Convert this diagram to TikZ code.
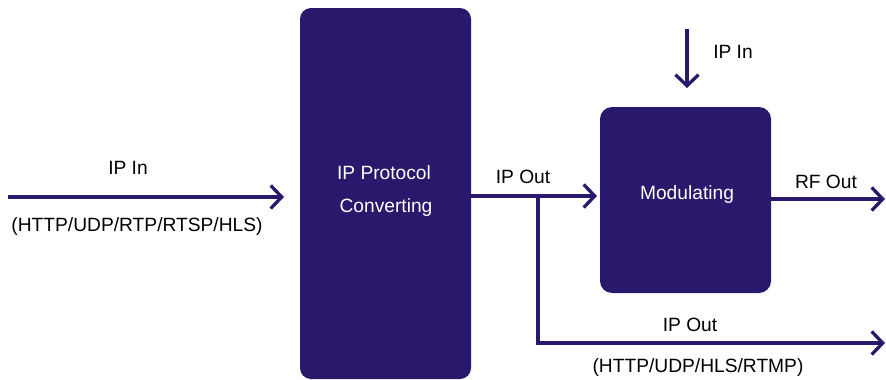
\documentclass[tikz,border=0pt]{standalone}
\usepackage{fontspec}
\setmainfont{Liberation Sans}
\usetikzlibrary{arrows.meta}
\definecolor{navy}{HTML}{29186C}
\tikzset{
  box/.style={fill=navy, draw=none, text=white, align=center, inner sep=0pt},
  arr/.style={draw=navy, line width=3.3pt, -{Straight Barb[length=11pt,width=23pt,line width=3.3pt]}},
  line/.style={draw=navy, line width=3.3pt},
  lbl/.style={text=black, inner sep=0pt, font=\fontsize{19.2}{23}\selectfont},
}
\begin{document}
\begin{tikzpicture}[x=1pt,y=-1pt]
\useasboundingbox (0,0) rectangle (886,380);
\node[box, rounded corners=11pt, minimum width=171pt, minimum height=371pt] (conv) at (385.5,193.5) {};
\node[lbl, text=white] (convA) at (384,173) {IP Protocol};
\node[lbl, text=white] (convB) at (386,208) {Converting};
\node[box, rounded corners=12pt, minimum width=171pt, minimum height=186pt] (mod) at (685.5,200) {};
\node[lbl, text=white] (modt) at (687,195) {Modulating};
% connectors
\coordinate (inL) at (8,197);
\coordinate (inR) at (284,197);
\draw[arr] (inL) -- (inR);
\coordinate (outA) at (471,196);
\coordinate (outB) at (597,196);
\draw[arr] (outA) -- (outB);
\coordinate (br) at (538,196);
\coordinate (brD) at (538,343);
\coordinate (brE) at (885,343);
\draw[line] (br) -- (brD);
\draw[arr] ([xshift=-1.65pt]brD) -- (brE);
\coordinate (rfA) at (771,199);
\coordinate (rfB) at (885,199);
\draw[arr] (rfA) -- (rfB);
\coordinate (dnA) at (687,29);
\coordinate (dnB) at (687,88);
\draw[arr] (dnA) -- (dnB);
% labels
\node[lbl] (l1) at (128,168) {IP In};
\node[lbl] (l2) at (137,227) {(HTTP/UDP/RTP/RTSP/HLS)};
\node[lbl] (l3) at (523,177) {IP Out};
\node[lbl] (l4) at (826,182) {RF Out};
\node[lbl] (l5) at (733,52) {IP In};
\node[lbl] (l6) at (690,325) {IP Out};
\node[lbl] (l7) at (698,368) {(HTTP/UDP/HLS/RTMP)};
\end{tikzpicture}
\end{document}
